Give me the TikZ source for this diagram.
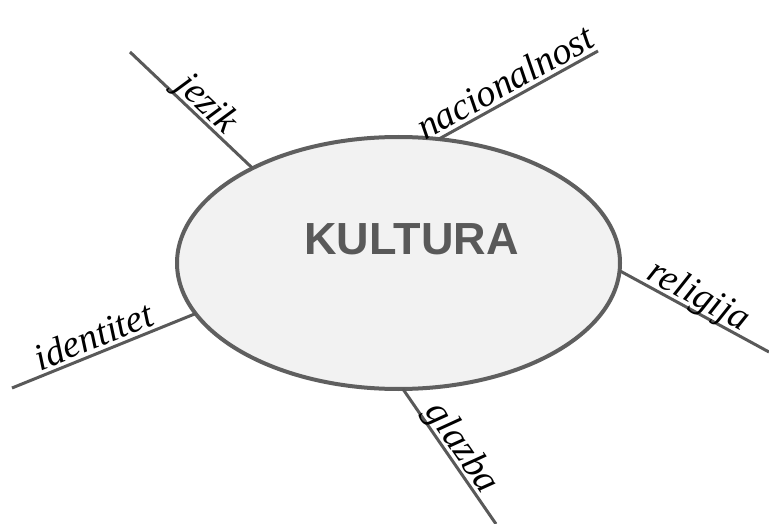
\documentclass[tikz,border=0pt]{standalone}
\usepackage{fontspec}
\setsansfont{Liberation Sans}
\newfontfamily\rijecfont{Liberation Serif}
\usepackage{tikz}
\usetikzlibrary{shapes, positioning, calc}
\definecolor{rimgray}{HTML}{5F5F5F}
\definecolor{fillgray}{HTML}{F2F2F2}
\definecolor{titlegray}{HTML}{595959}

\begin{document}
\begin{tikzpicture}[x=1pt,y=-1pt,
	hub/.style={ellipse,draw=rimgray,fill=fillgray,line width=4pt,outer sep=0pt,
		minimum width=443pt,minimum height=252pt},
	branch/.style={draw=titlegray,line width=3pt},
	word/.style={sloped,above,inner sep=3.5pt,text depth=0pt,
		font=\rijecfont\itshape\fontsize{38}{42}\selectfont}]
	\useasboundingbox (0,0) rectangle (769,524);
	\node[hub] (kultura) at (398.5,263) {};
	\node[font=\sffamily\bfseries\fontsize{45}{50}\selectfont,text=titlegray] (naslov) at (411.5,239.5) {KULTURA};
	% krajevi grana
	\coordinate (jezikKraj) at (130,52);
	\coordinate (nacKraj) at (598,51);
	\coordinate (relKraj) at (769,352);
	\coordinate (idKraj) at (12,388);
	\coordinate (glazKraj) at (496,524);
	% grane
	\draw[branch] (kultura.147.7) -- (jezikKraj) node[word,pos=.46] {jezik};
	\draw[branch] (kultura.72.8) -- (nacKraj) node[word,pos=.47] {nacionalnost};
	\draw[branch] (kultura.-2.1) -- (relKraj) node[word,pos=.48] {religija};
	\draw[branch] (kultura.194.7) -- (idKraj) node[word,pos=.52] {identitet};
	\draw[branch] (kultura.272.9) -- (glazKraj) node[word,pos=.5] {glazba};
\end{tikzpicture}
\end{document}
